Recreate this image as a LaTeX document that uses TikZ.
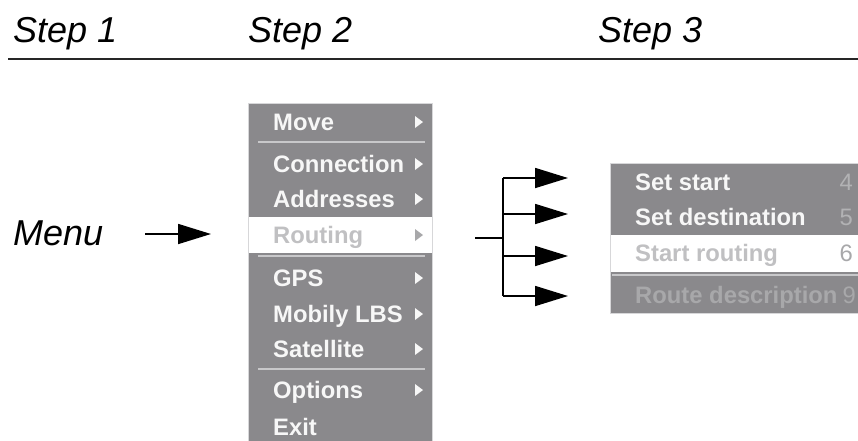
\documentclass[tikz,border=0pt]{standalone}
\usepackage{fontspec}
\setmainfont{Liberation Sans}
\usetikzlibrary{arrows.meta}
\definecolor{menugray}{RGB}{138,137,140}
\definecolor{sepgray}{RGB}{200,200,202}
\definecolor{edgegray}{RGB}{215,215,217}
\definecolor{dimtext}{RGB}{192,192,194}
\definecolor{numgray}{RGB}{178,178,180}
\definecolor{offtext}{RGB}{168,168,170}
\begin{document}
\begin{tikzpicture}[x=1pt,y=-1pt,
  hdr/.style={anchor=base west,inner sep=0pt,font=\fontsize{36}{36}\selectfont\itshape},
  itm/.style={anchor=base west,inner sep=0pt,text=white!94!gray,font=\fontsize{23.8}{24}\selectfont\bfseries},
  dimitm/.style={itm,text=dimtext},
  offitm/.style={itm,text=offtext},
  num/.style={anchor=base east,inner sep=0pt,text=numgray,font=\fontsize{23.8}{24}\selectfont},
  menubox/.style={fill=menugray,draw=edgegray,line width=0.8pt},
  sepline/.style={draw=sepgray,line width=1.2pt},
  conn/.style={line width=1.7pt,black},
  arr/.style={conn,-{Triangle[length=33pt,width=20pt]}}
]
\useasboundingbox (0,0) rectangle (858,440);

% header
\node[hdr] (s1) at (13,42) {Step 1};
\node[hdr] (s2) at (248,42) {Step 2};
\node[hdr] (s3) at (598,42) {Step 3};
\draw[line width=1.6pt,black!85] (8,59) -- (858,59);

% Menu
\node[hdr,font=\fontsize{36}{36}\selectfont\itshape] (menu) at (13,245) {Menu};
\coordinate (m0) at (145,234);
\coordinate (m1) at (211,234);
\draw[arr] (m0) -- (m1);

% left menu box
\path[menubox] (248,103) rectangle (432,441);
\fill[white] (248,217) rectangle (432,253);
\draw[edgegray,line width=0.6pt] (248,217) -- (248,253) (432,217) -- (432,253);
\draw[sepline] (258,142) -- (425,142);
\draw[sepline] (258,256) -- (425,256);
\draw[sepline] (258,369) -- (425,369);

\node[itm] (mv) at (273,130) {Move};
\node[itm] (cn) at (273,172) {Connection};
\node[itm] (ad) at (273,207) {Addresses};
\node[dimitm] (rt) at (273,243) {Routing};
\node[itm] (gp) at (273,286) {GPS};
\node[itm] (ml) at (273,322) {Mobily LBS};
\node[itm] (sa) at (273,357) {Satellite};
\node[itm] (op) at (273,398) {Options};
\node[itm] (ex) at (273,435) {Exit};

\foreach \y/\c in {122/white!94!gray,164/white!94!gray,199/white!94!gray,235/offtext,
                   278/white!94!gray,314/white!94!gray,349/white!94!gray,390/white!94!gray}
  \fill[\c] (415,\y-6) -- (423,\y) -- (415,\y+6) -- cycle;

% branching connectors
\coordinate (b0) at (475,238);
\coordinate (b1) at (503,238);
\coordinate (v1) at (503,178);
\coordinate (v2) at (503,214);
\coordinate (v3) at (503,256);
\coordinate (v4) at (503,296);
\coordinate (t1) at (568,178);
\coordinate (t2) at (568,214);
\coordinate (t3) at (568,256);
\coordinate (t4) at (568,296);
\draw[conn] (b0) -- (b1);
\draw[conn] (v1) -- (v4);
\draw[arr] (v1) -- (t1);
\draw[arr] (v2) -- (t2);
\draw[arr] (v3) -- (t3);
\draw[arr] (v4) -- (t4);

% right menu box
\path[menubox] (610,163) rectangle (862,313);
\fill[white] (610,235) rectangle (860,272);
\draw[edgegray,line width=0.6pt] (610,235) -- (610,272);
\draw[sepline] (612,275) -- (860,275);

\node[itm] (ss) at (635,190) {Set start};
\node[itm] (sd) at (635,225) {Set destination};
\node[dimitm] (sr) at (635,261) {Start routing};
\node[offitm] (rd) at (635,303) {Route description};
\node[num] (n4) at (853,190) {4};
\node[num] (n5) at (853,225) {5};
\node[num,text=offtext] (n6) at (853,261) {6};
\node[num,text=offtext] (n9) at (856,303) {9};
\end{tikzpicture}
\end{document}
